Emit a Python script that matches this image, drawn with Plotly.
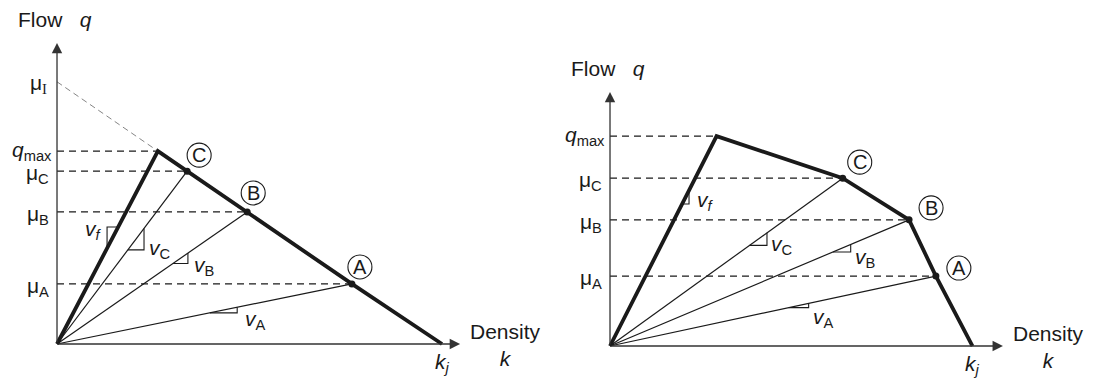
import plotly.graph_objects as go

FONT = "Liberation Sans, Arial, sans-serif"
INK = "#1a1a1a"

# left panel: triangular diagram. order = q_max corner, C, B, A, k_j
left_k = [26.2, 33.8, 49.4, 76.6, 100.0]
left_q = [50.1, 44.9, 34.3, 15.6, 0.0]
left_mu_i = 68.1
left_axis_end = [104.7, 78.2]

# right panel: concave piecewise diagram
right_k = [29.4, 64.2, 82.5, 89.9, 100.0]
right_q = [57.9, 46.3, 34.8, 19.3, 0.0]
right_axis_end = [108.4, 70.1]

state_names = ["C", "B", "A"]
mu_labels = ["μ<sub>C</sub>", "μ<sub>B</sub>", "μ<sub>A</sub>"]
speed_labels = ["<i>v</i><sub><i>f</i></sub>", "<i>v</i><sub>C</sub>",
                "<i>v</i><sub>B</sub>", "<i>v</i><sub>A</sub>"]

fig = go.Figure()
ann = []
shapes = []


def line(xs, ys, xa, ya, width=1.2, dash=None, color=INK):
    fig.add_trace(go.Scatter(x=xs, y=ys, mode="lines", xaxis=xa, yaxis=ya,
                             line=dict(color=color, width=width, dash=dash),
                             hoverinfo="skip"))


def text(x, y, xa, ya, s, size=20, **kw):
    ann.append(dict(x=x, y=y, xref=xa, yref=ya, text=s, showarrow=False,
                    font=dict(family=FONT, size=size, color=INK), **kw))


def panel(ks, qs, axis_end, xa, ya, tri, lab, circ, mu_i=None):
    # axes with arrows
    for hx, hy in [(axis_end[0], 0), (0, axis_end[1])]:
        ann.append(dict(x=hx, y=hy, ax=0, ay=0, xref=xa, yref=ya, axref=xa, ayref=ya,
                        text="", showarrow=True, arrowhead=2, arrowsize=1.6,
                        arrowwidth=1.3, arrowcolor="#333", standoff=0))
    # dashed guides
    for k, q in zip(ks[:4], qs[:4]):
        line([0, k], [q, q], xa, ya, width=1.2, dash="7px,5px")
    if mu_i is not None:
        line([0, ks[0]], [mu_i, qs[0]], xa, ya, width=0.9, dash="6px,4px", color="#777")
    # rays to states
    for k, q in zip(ks[1:4], qs[1:4]):
        line([0, k], [0, q], xa, ya, width=1.2)
    # the fundamental diagram
    line([0] + ks, [0] + qs, xa, ya, width=3.8)
    fig.add_trace(go.Scatter(x=ks[1:4], y=qs[1:4], mode="markers", xaxis=xa, yaxis=ya,
                             marker=dict(color=INK, size=7), hoverinfo="skip"))
    # slope triangles: free flow, C, B, A
    slopes = [qs[0] / ks[0]] + [q / k for k, q in zip(ks[1:4], qs[1:4])]
    for i, (s, (k1, k2, kind)) in enumerate(zip(slopes, tri)):
        if kind == "above":
            line([k1, k1, k2], [s * k1, s * k2, s * k2], xa, ya, width=1.1)
            ax_, ay_ = k1, s * k2
        else:
            line([k1, k2, k2], [s * k1, s * k1, s * k2], xa, ya, width=1.1)
            ax_, ay_ = k2, s * k1
        dx, dy, anchor = lab[i]
        text(ax_, ay_, xa, ya, speed_labels[i], size=21, xanchor=anchor,
             yanchor="middle", xshift=dx, yshift=dy)
    # circled state letters
    for (k, q), name, (dx, dy) in zip(zip(ks[1:4], qs[1:4]), state_names, circ):
        shapes.append(dict(type="circle", xref=xa, yref=ya, xsizemode="pixel",
                           ysizemode="pixel", xanchor=k, yanchor=q,
                           x0=dx - 12, x1=dx + 12, y0=dy - 12, y1=dy + 12,
                           line=dict(color=INK, width=1.1)))
        text(k, q, xa, ya, name, size=20, xshift=dx, yshift=dy)
    # tick-like labels on the flow axis
    text(0, qs[0], xa, ya, "<i>q</i><sub>max</sub>", size=21, xanchor="right", xshift=-3, yshift=0)
    for q, s in zip(qs[1:4], mu_labels):
        text(0, q, xa, ya, s, size=21, xanchor="right", xshift=-6, yshift=-3)
    if mu_i is not None:
        text(0, mu_i, xa, ya,
             "μ<sub><span style='font-family:Liberation Serif'>I</span></sub>",
             size=21, xanchor="right", xshift=-8, yshift=-2)
    text(ks[4], 0, xa, ya, "<i>k</i><sub><i>j</i></sub>", size=21, yshift=-19)
    text(0, axis_end[1], xa, ya, "Flow   <i>q</i>", size=21, yshift=23, xshift=-2)
    text(axis_end[0], 0, xa, ya, "Density<br><i>k</i>", size=21, xanchor="left", xshift=8, yshift=-1)


panel(left_k, left_q, left_axis_end, "x", "y",
      tri=[(13.0, 15.9, "above"), (18.4, 22.6, "below"), (30.1, 34.0, "below"), (39.7, 46.8, "below")],
      lab=[(-3, -3, "right"), (3, 1, "left"), (4, -2, "left"), (6, -7, "left")],
      circ=[(12, 16), (6, 19), (8, 17)], mu_i=left_mu_i)
panel(right_k, right_q, right_axis_end, "x2", "y2",
      tri=[(19.9, 21.8, "below"), (38.5, 43.3, "below"), (61.5, 66.4, "below"), (49.3, 54.8, "below")],
      lab=[(6, 3, "left"), (2, 0, "left"), (2, -6, "left"), (2, -10, "left")],
      circ=[(17, 16), (22, 12), (23, 8)])

# page body keeps an 8 px margin, so the figure is 8 px smaller than the window
hidden = dict(visible=False, showgrid=False, zeroline=False, fixedrange=True)
fig.update_layout(
    width=1086, height=371, autosize=False,
    margin=dict(l=0, r=0, t=0, b=0),
    paper_bgcolor="white", plot_bgcolor="white",
    showlegend=False, hovermode=False,
    xaxis=dict(domain=[0, 0.5], range=[-12.73, 128.31], **hidden),
    yaxis=dict(domain=[0, 1], range=[-9.09, 87.27], **hidden),
    xaxis2=dict(domain=[0.5, 1], range=[-16.28, 133.52], anchor="y2", **hidden),
    yaxis2=dict(domain=[0, 1], range=[-9.10, 93.24], anchor="x2", **hidden),
    annotations=ann, shapes=shapes,
)

fig.write_html("out.html")
